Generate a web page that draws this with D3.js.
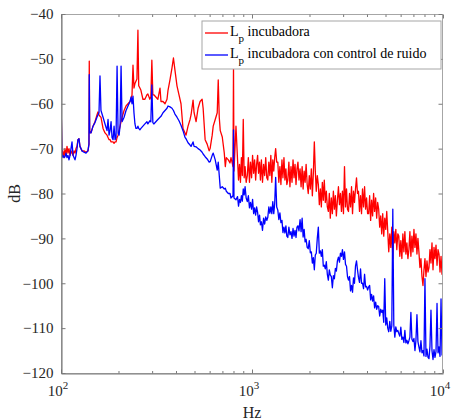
<!DOCTYPE html>
<html>
<head>
<meta charset="utf-8">
<script src="https://cdn.jsdelivr.net/npm/d3@7"></script>
<style>
  body { margin: 0; background: #fff; }
  svg { display: block; font-family: "Liberation Serif", "Times New Roman", Times, serif; }
</style>
</head>
<body>
<div id="chart"></div>
<script>
const width = 451;
const height = 420;

// Frequency grid (Hz), shared by both spectra
const freqHz = [
  100, 101.2, 102.4, 103.7, 104.9, 106.2, 107.5, 108.8, 110.1, 111.5,
  112.8, 114.2, 115.6, 117.0, 118.4, 119.8, 121.3, 122.7, 124.2, 125.7,
  128.8, 131.9, 135.2, 138.4, 140.1, 140.6, 141.3, 143.6, 147.1, 150.6,
  154.3, 156.1, 158.1, 160.0, 161.9, 166.0, 170.0, 174.2, 176.3, 178.5,
  180.6, 182.9, 185.0, 187.3, 189.6, 191.9, 194.2, 196.6, 199.0, 201.4,
  203.8, 206.3, 208.8, 213.9, 219.0, 224.3, 229.8, 232.6, 235.4, 238.2,
  241.0, 243.9, 246.8, 249.8, 252.8, 255.2, 258.9, 262.1, 268.5, 275.0,
  281.8, 284.9, 291.8, 295.4, 299.0, 302.6, 306.2, 313.7, 321.4, 329.9,
  333.8, 342.0, 350.4, 358.9, 363.3, 372.0, 381.2, 387.9, 395.0, 404.8,
  414.8, 424.9, 435.3, 446.0, 451.4, 462.5, 473.9, 479.6, 491.4, 497.4,
  509.6, 522.0, 534.9, 548.1, 554.8, 568.4, 582.4, 596.7, 604.0, 618.9,
  626.5, 641.9, 657.6, 665.6, 673.8, 682.0, 698.8, 716.0, 724.8, 733.7,
  751.7, 767.0, 776.3, 795.3, 800.1, 804.9, 824.3,
  840, 850, 860, 870, 880, 890, 900, 910, 920, 932,
  945, 957, 970, 982, 995, 1007, 1020, 1032, 1045, 1057,
  1070, 1082, 1095, 1107, 1120, 1135, 1150, 1165, 1180, 1195,
  1210, 1225, 1240, 1255, 1270, 1285, 1300, 1315, 1330, 1347,
  1365, 1382, 1400, 1417, 1435, 1452, 1470, 1487, 1505, 1522,
  1540, 1560, 1580, 1600, 1620, 1640, 1660, 1680, 1700, 1720,
  1740, 1762, 1785, 1807, 1830, 1852, 1875, 1897, 1920, 1945,
  1970, 1995, 2020, 2045, 2070, 2095, 2120, 2145, 2170, 2197,
  2225, 2252, 2280, 2307, 2335, 2362, 2390, 2420, 2450, 2480,
  2510, 2540, 2570, 2602, 2635, 2667, 2700, 2732, 2765, 2800,
  2835, 2870, 2905, 2940, 2975, 3012, 3050, 3087, 3125, 3162,
  3200, 3240, 3280, 3320, 3360, 3400, 3440, 3482, 3525, 3567,
  3610, 3655, 3700, 3745, 3790, 3837, 3885, 3932, 3980, 4030,
  4080, 4130, 4180, 4230, 4280, 4332, 4385, 4440, 4495, 4550,
  4605, 4662, 4720, 4777, 4835, 4895, 4955, 5015, 5075, 5137,
  5200, 5265, 5330, 5395, 5460, 5527, 5595, 5662, 5730, 5800,
  5870, 5942, 6015, 6090, 6165, 6240, 6315, 6392, 6470, 6550,
  6630, 6710, 6790, 6875, 6960, 7045, 7130, 7217, 7305, 7392,
  7480, 7572, 7665, 7760, 7855, 7950, 8045, 8145, 8245, 8345,
  8445, 8547, 8650, 8757, 8865, 8972, 9080, 9192, 9305, 9417,
  9530, 9647, 9765, 9882, 10000
];

// Lp incubadora (dB)
const redDb = [
  -58.5, -71.5, -70.5, -72, -70, -71.5, -69.5, -71, -70, -71.5,
  -70.5, -71, -71.5, -70.5, -71, -70, -69.5, -68, -67.8, -69.5,
  -70.5, -70.5, -70.8, -70.5, -69, -50.5, -66, -66.5, -65, -64,
  -62.5, -61.8, -62.5, -62.8, -63, -65.5, -66.5, -67, -67.5, -68,
  -68, -68.5, -68.5, -68.5, -68.8, -68.5, -68.5, -67.5, -67, -66,
  -65, -64, -63, -61.5, -60.5, -60, -59.5, -59, -58, -51.4,
  -56.5, -55.5, -55, -54.5, -43.6, -56, -56.5, -57, -59, -59,
  -58, -57.8, -59, -58.5, -50.3, -58, -58, -58.5, -59, -56.5,
  -59.5, -59.5, -60, -59, -57, -54.7, -52, -49.8, -52.5, -56,
  -58, -60, -65.5, -66.5, -67, -65, -63.5, -62.5, -59.2, -62,
  -64, -61, -59.5, -59, -61, -68, -69, -70.5, -69.9, -67,
  -65, -63.5, -62, -54.7, -63, -66, -67.4, -71, -74, -72,
  -72.5, -73.2, -72, -74, -52, -75, -65,
  -72.5, -77, -73.5, -77.5, -72, -76, -63.5, -76.5, -74, -77.5,
  -76, -72, -77.5, -73, -76.5, -71.5, -75.5, -72.5, -77, -73.5,
  -71.5, -75.5, -73, -77, -72.5, -77.5, -73.5, -76, -72, -76.5,
  -77, -73, -76, -71.5, -77.5, -72.5, -75, -72, -70, -73,
  -73, -77.5, -74, -78, -72.5, -76.5, -72, -77, -74.5, -78,
  -77, -73, -78.5, -74, -77.5, -72.5, -76.5, -73.5, -78, -74.5,
  -73, -77, -74.5, -78.5, -74, -79, -75, -77.5, -73.5, -78,
  -80, -76, -79, -74.5, -80.5, -75.5, -68.5, -75, -79.5, -76,
  -78, -82.5, -79, -83, -77.5, -81.5, -77, -82, -79.5, -83,
  -84, -80, -85.5, -81, -84.5, -79.5, -83.5, -80.5, -85, -81.5,
  -78.5, -82.5, -80, -84, -79.5, -84.5, -74, -83, -79, -83.5,
  -84, -80, -83, -78.5, -84.5, -79.5, -82, -79, -76.5, -80,
  -79.5, -84, -80.5, -84.5, -79, -83, -78.5, -83.5, -81, -84.5,
  -84.5, -80.5, -86, -81.5, -85, -80, -84, -81, -85.5, -82,
  -83.5, -87.5, -85, -89, -84.5, -89.5, -85.5, -88, -84, -88.5,
  -93, -89, -92, -87.5, -94.5, -88.5, -91, -88, -92.5, -89,
  -89.5, -94, -90.5, -94.5, -89, -93, -88.5, -93.5, -91, -94.5,
  -92.5, -88.5, -94, -89.5, -93, -88, -92, -89, -93.5, -90,
  -93, -96.5, -94.5, -98.5, -100.5, -97, -94.5, -98.5, -95, -97.5,
  -96.5, -92.5, -95.5, -91, -97, -92, -94.5, -91.5, -96, -92.5,
  -93.5, -97.5, -94, -98, -96
];

// Lp incubadora con control de ruido (dB)
const blueDb = [
  -58, -72, -71.5, -72, -71.8, -71, -72, -71.5, -72.5, -71.5,
  -70, -68.5, -71.5, -72, -72.5, -71.5, -70, -68, -67.8, -69.5,
  -70.5, -70.8, -71, -70.5, -69, -53.5, -66.5, -66.5, -65, -64.2,
  -63, -62.5, -62, -53.8, -61.5, -63, -64.5, -66, -63.5, -67,
  -66, -64, -67.5, -68, -65, -68, -67.5, -51.6, -66.5, -67,
  -65, -51.6, -64, -63, -61.5, -60.5, -59.5, -58.5, -60, -58.3,
  -62, -64.5, -65.5, -65.5, -65, -65.5, -65.8, -65.5, -65, -64.5,
  -64, -64.5, -63.8, -64, -55.8, -64.2, -64.5, -64, -63.5, -63,
  -62.8, -62, -61.5, -61, -60.5, -60.7, -61, -61.5, -62.3, -63,
  -63.8, -64.8, -66, -67.5, -67.8, -68.7, -69.2, -69.5, -68.5, -69.5,
  -69.6, -70, -70.3, -70.8, -71.2, -71.8, -72.3, -73, -72.9, -71.5,
  -71, -72.5, -74.8, -73, -76, -78.8, -78.5, -79, -78.8, -79.5,
  -80, -80, -81, -80.5, -65.8, -81, -81.4,
  -80.7, -82.8, -81.3, -82, -80.5, -81.7, -79, -80.3, -78.5, -81,
  -81.8, -80.5, -83.2, -82, -83.5, -81.3, -84.5, -83.2, -84.8, -83,
  -84.2, -86.3, -84.8, -87, -86.3, -88.2, -85.5, -86.8, -85.2, -86,
  -85.3, -83, -84.4, -83, -84.5, -81.8, -84.5, -82.2, -76.4, -83,
  -83.7, -85.8, -84.3, -86.5, -86, -88.7, -87.5, -88.8, -87.2, -89.5,
  -89.8, -87.5, -89.2, -88.5, -90, -87.8, -89.5, -88.2, -89.8, -87.5,
  -87.2, -88.3, -85.8, -88.5, -85.5, -89.7, -88, -90.8, -90.2, -92,
  -92.3, -90.5, -93.2, -93, -95.5, -94.3, -97, -93.7, -93.3, -90,
  -87.5, -93.3, -92.8, -94, -92.5, -96.2, -96, -96.8, -95.2, -98,
  -99.3, -97, -98.2, -98.5, -101, -98.3, -99, -96.7, -97.3, -95,
  -94.2, -95.3, -93.3, -94, -92.5, -94.7, -93, -95.8, -96.2, -98.5,
  -99.3, -98.5, -101.7, -100.5, -102, -98.8, -100, -96.2, -95, -97,
  -98.7, -99.8, -96.8, -100, -100, -101.2, -98, -100.8, -100.7, -101.5,
  -100.8, -100.5, -103.7, -102.5, -104, -102.8, -105.5, -104.2, -105.8, -105,
  -105.2, -107.3, -105.8, -106.5, -106, -108.7, -99, -109.3, -107.7, -110,
  -110.8, -108.5, -110.7, -109.5, -83.5, -109.3, -112, -109.7, -110.8, -110.5,
  -111.2, -111.8, -109.8, -112.5, -112, -113.2, -110.5, -113.3, -112.7, -113.5,
  -112.8, -112, -106.5, -112.5, -113, -112.3, -115, -112.7, -107, -113,
  -114.2, -115.3, -112.8, -115.5, -115, -116.2, -99, -116.3, -114.7, -116.5,
  -116.8, -114, -106, -115, -117, -114.8, -116.5, -115.2, -104.5, -115.5,
  -114.2, -116.3, -103.5, -116, -115.5
];

const seriesNames = ["incubadora", "incubadora con control de ruido"];
const seriesColors = ["#ff0000", "#0000ff"];

const xDecades = [100, 1000, 10000];
const xMinor = [200, 300, 400, 500, 600, 700, 800, 900,
                2000, 3000, 4000, 5000, 6000, 7000, 8000, 9000];
const yTicks = [-120, -110, -100, -90, -80, -70, -60, -50, -40];

const margin = { left: 61, right: 8, top: 14, bottom: 47 };

const svg = d3.select('#chart')
  .append('svg')
  .attr('width', width)
  .attr('height', height);

const x = d3.scaleLog()
  .domain([100, 10000])
  .range([margin.left, width - margin.right]);

const y = d3.scaleLinear()
  .domain([-120, -40])
  .range([height - margin.bottom, margin.top]);

const x0 = x.range()[0], x1 = x.range()[1];
const yTop = y.range()[1], yBot = y.range()[0];

// Lines first, box and ticks over them
const series = [redDb, blueDb];
const line = d3.line()
  .x((d, i) => x(freqHz[i]))
  .y(d => y(d));

svg.append('defs').append('clipPath').attr('id', 'clip')
  .append('rect')
  .attr('x', x0).attr('y', yTop)
  .attr('width', x1 - x0).attr('height', yBot - yTop);

svg.append('g')
  .attr('clip-path', 'url(#clip)')
  .selectAll('path')
  .data(series)
  .join('path')
    .attr('d', d => line(d))
    .attr('fill', 'none')
    .attr('stroke', (d, i) => seriesColors[i])
    .attr('stroke-width', 1.3)
    .attr('stroke-linejoin', 'round');

// Box
svg.append('rect')
  .attr('x', x0 + 0.5).attr('y', yTop + 0.5)
  .attr('width', x1 - x0 - 1).attr('height', yBot - yTop)
  .attr('fill', 'none')
  .attr('stroke', '#a6a6a6')
  .attr('stroke-width', 1);

// Bottom axis, ticks inward
const xAxis = d3.axisBottom(x)
  .tickValues(xDecades.concat(xMinor))
  .tickSizeInner(-4)
  .tickSizeOuter(0)
  .tickFormat('');

const gx = svg.append('g')
  .attr('transform', `translate(0,${yBot + 0.5})`)
  .call(xAxis);
gx.select('.domain').attr('stroke', '#7a7a7a');
gx.selectAll('.tick line')
  .attr('stroke', '#7a7a7a')
  .attr('y2', d => xDecades.includes(d) ? -4 : -2.5);

// Top ticks
svg.append('g')
  .attr('transform', `translate(0,${yTop + 0.5})`)
  .call(d3.axisTop(x).tickValues(xDecades.concat(xMinor)).tickSizeInner(-4).tickSizeOuter(0).tickFormat(''))
  .call(g => g.select('.domain').remove())
  .selectAll('.tick line')
  .attr('stroke', '#7a7a7a')
  .attr('y2', d => xDecades.includes(d) ? 4 : 2.5);

// Decade labels 10^n
const xLabels = svg.append('g')
  .selectAll('text')
  .data(xDecades)
  .join('text')
    .attr('x', d => x(d) - 3)
    .attr('y', yBot + 23)
    .attr('text-anchor', 'middle')
    .attr('font-size', 15)
    .attr('fill', '#262626');
xLabels.append('tspan').text('10');
xLabels.append('tspan')
  .attr('dy', -7)
  .attr('font-size', 11)
  .text(d => Math.round(Math.log10(d)));

// Left axis
const gy = svg.append('g')
  .attr('transform', `translate(${x0 + 0.5},0)`)
  .call(d3.axisLeft(y).tickValues(yTicks).tickSizeInner(-4).tickSizeOuter(0).tickPadding(8));
gy.attr('font-family', null);
gy.select('.domain').attr('stroke', '#6e6e6e');
gy.selectAll('.tick line').attr('stroke', '#7a7a7a');
gy.selectAll('.tick text')
  .attr('font-size', 15)
  .attr('fill', '#262626');

// Right ticks
svg.append('g')
  .attr('transform', `translate(${x1 - 0.5},0)`)
  .call(d3.axisRight(y).tickValues(yTicks).tickSizeInner(-4).tickSizeOuter(0).tickFormat(''))
  .call(g => g.select('.domain').remove())
  .selectAll('.tick line').attr('stroke', '#7a7a7a');

// Axis titles
svg.append('text')
  .attr('x', (x0 + x1) / 2)
  .attr('y', height - 2)
  .attr('text-anchor', 'middle')
  .attr('font-size', 16)
  .attr('fill', '#262626')
  .text('Hz');

svg.append('text')
  .attr('transform', `translate(20,${(yTop + yBot) / 2}) rotate(-90)`)
  .attr('text-anchor', 'middle')
  .attr('font-size', 16)
  .attr('fill', '#262626')
  .text('dB');

// Legend
const legend = svg.append('g').attr('transform', 'translate(202,21)');
legend.append('rect')
  .attr('width', 239).attr('height', 48)
  .attr('fill', '#fff')
  .attr('stroke', '#a6a6a6');

const items = legend.selectAll('.legend-item')
  .data(seriesNames)
  .join('g')
    .attr('class', 'legend-item')
    .attr('transform', (d, i) => `translate(0,${12 + i * 22})`);

items.append('line')
  .attr('x1', 3).attr('x2', 26)
  .attr('stroke', (d, i) => seriesColors[i])
  .attr('stroke-width', 1.3);

const label = items.append('text')
  .attr('x', 28)
  .attr('y', 3)
  .attr('font-size', 14)
  .attr('fill', '#000');
label.append('tspan').text('L');
label.append('tspan').attr('dy', 6).attr('font-size', 11).text('p');
label.append('tspan').attr('dy', -6).text(d => ' ' + d);
</script>
</body>
</html>
